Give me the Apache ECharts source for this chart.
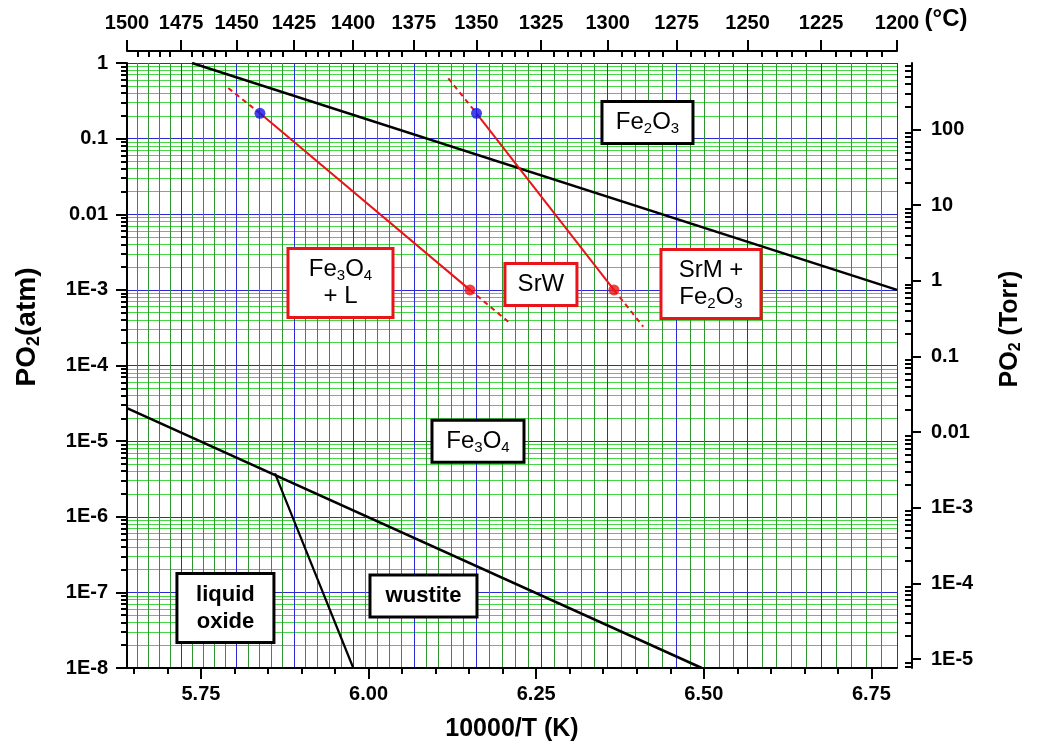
<!DOCTYPE html>
<html><head><meta charset="utf-8">
<script src="https://cdn.jsdelivr.net/npm/echarts@6/dist/echarts.min.js"></script>
<style>html,body{margin:0;padding:0;background:#fff}#c{width:1038px;height:748px}</style>
</head><body><div id="c"></div>
<script>
// ---------- data ----------
const FONT = '"Liberation Sans", Arial, sans-serif';
const TORR_PER_ATM = 760;
const topMajorC = [1500, 1475, 1450, 1425, 1400, 1375, 1350, 1325, 1300, 1275, 1250, 1225, 1200];
const bottomMajor = [5.75, 6.00, 6.25, 6.50, 6.75];
const bottomMinor = [5.65, 5.70, 5.80, 5.85, 5.90, 5.95, 6.05, 6.10, 6.15, 6.20, 6.30, 6.35, 6.40, 6.45, 6.55, 6.60, 6.65, 6.70];
const leftMajor = [1, 0.1, 0.01, 1e-3, 1e-4, 1e-5, 1e-6, 1e-7, 1e-8];
const rightMajor = [100, 10, 1, 0.1, 0.01, 1e-3, 1e-4, 1e-5];

// phase boundaries  [10000/T, PO2 (atm)]
const hematiteMagnetite = [[5.7366, 1], [6.7882, 1e-3]];
const magnetiteWustite = [[5.6396, 2.74e-5], [6.497, 1e-8]];
const liquidWustite = [[5.8604, 3.75e-6], [5.9772, 1e-8]];
// SrW stability lines
const srwLeftSolid = [[5.8380, 0.216], [6.1512, 1e-3]];
const srwLeftDashUp = [[5.7907, 0.467], [5.8380, 0.216]];
const srwLeftDashDown = [[6.1512, 1e-3], [6.2084, 3.79e-4]];
const srwRightSolid = [[6.1610, 0.216], [6.3660, 1e-3]];
const srwRightDashUp = [[6.1189, 0.628], [6.1610, 0.216]];
const srwRightDashDown = [[6.3660, 1e-3], [6.4097, 3.26e-4]];
const blueDots = [[5.8380, 0.216], [6.1610, 0.216]];
const redDots = [[6.1512, 1e-3], [6.3660, 1e-3]];

// region labels: text, anchor [x, PO2]
const regionText = ['Fe2O3', 'Fe3O4+L', 'SrW', 'SrM+Fe2O3', 'Fe3O4', 'liquid oxide', 'wustite'];
const regionAnchor = [[6.4160, 0.1633], [5.9581, 1.233e-3], [6.2571, 1.178e-3], [6.5107, 1.196e-3], [6.1632, 1.0e-5], [5.7865, 6.21e-8], [6.0819, 8.95e-8]];

// ---------- derived axis scaffolding ----------
const toX = c => 10000 / (c + 273.15);
const xMin = toX(1500), xMax = toX(1200);
const topMajorX = topMajorC.map(toX);
const topMinorX = [];
for (let c = 1495; c > 1200; c -= 5) if (c % 25 !== 0) topMinorX.push(toX(c));
const leftMinor = [];
for (let e = -8; e < 0; e++) for (let k = 2; k <= 9; k++) leftMinor.push(k * Math.pow(10, e));
const rMin = 1e-8 * TORR_PER_ATM, rMax = 1 * TORR_PER_ATM;
const rightMinor = [];
for (let e = -6; e <= 2; e++) for (let k = 2; k <= 9; k++) { const v = k * Math.pow(10, e); if (v >= rMin && v <= rMax) rightMinor.push(v); }

const tickStyle = { color: '#000', width: 2 };
const labelFont = { fontFamily: FONT, fontSize: 20, fontWeight: 'bold', color: '#000' };
const logLabel = v => {
  const e = Math.round(Math.log10(v));
  if (e >= -2) return String(Math.pow(10, e) >= 1 ? Math.round(Math.pow(10, e)) : Number(Math.pow(10, e).toFixed(-e)));
  return '1E' + e;
};

// ---------- label rich styles ----------
const noFx = { textBorderWidth: 0, textShadowBlur: 0, textShadowColor: 'transparent' };
const rich = {
  n: Object.assign({ fontFamily: FONT, fontSize: 24, color: '#000', lineHeight: 27 }, noFx),
  s: Object.assign({ fontFamily: FONT, fontSize: 15, color: '#000', lineHeight: 12, padding: [13, 0, 0, 0] }, noFx),
  b: Object.assign({ fontFamily: FONT, fontSize: 22, fontWeight: 'bold', color: '#000', lineHeight: 27 }, noFx)
};
const regionFmt = {
  'Fe2O3': '{n|Fe}{s|2}{n|O}{s|3}',
  'Fe3O4+L': '{n|Fe}{s|3}{n|O}{s|4}\n{n|+ L}',
  'SrW': '{n|SrW}',
  'SrM+Fe2O3': '{n|SrM +}\n{n|Fe}{s|2}{n|O}{s|3}',
  'Fe3O4': '{n|Fe}{s|3}{n|O}{s|4}',
  'liquid oxide': '{b|liquid}\n{b|oxide}',
  'wustite': '{b|wustite}'
};
const regionBox = {
  'Fe2O3': { c: '#000', w: 88 },
  'Fe3O4+L': { c: '#e8141a', w: 102 },
  'SrW': { c: '#e8141a', w: 69 },
  'SrM+Fe2O3': { c: '#e8141a', w: 97 },
  'Fe3O4': { c: '#000', w: 89 },
  'liquid oxide': { c: '#000', w: 94 },
  'wustite': { c: '#000', w: 104 }
};

function lineSeries(data, color, dashed, width) {
  return { type: 'line', xAxisIndex: 1, yAxisIndex: 1, data, showSymbol: false, symbol: 'none', silent: true,
    lineStyle: { color, width, type: dashed ? [5, 4] : 'solid' }, z: 3, animation: false };
}

const option = {
  animation: false,
  backgroundColor: '#fff',
  grid: { left: 127, right: 141, top: 63, bottom: 80, containLabel: false },
  xAxis: [
    { type: 'value', min: xMin, max: xMax, position: 'bottom',
      axisLine: { show: false, onZero: false },
      axisTick: { show: true, customValues: bottomMinor, length: 6, lineStyle: tickStyle },
      axisLabel: { show: false }, splitLine: { show: false } },
    { type: 'value', min: xMin, max: xMax, position: 'bottom',
      axisLine: { show: true, onZero: false, lineStyle: { color: '#000', width: 2 } },
      axisTick: { show: true, customValues: bottomMajor, length: 11, lineStyle: tickStyle },
      axisLabel: Object.assign({ customValues: bottomMajor, formatter: v => v.toFixed(2), margin: 16 }, labelFont),
      splitLine: { show: false },
      name: '10000/T (K)', nameLocation: 'middle', nameGap: 49,
      nameTextStyle: { fontFamily: FONT, fontSize: 25, fontWeight: 'bold', color: '#000' } },
    { type: 'value', min: xMin, max: xMax, position: 'top', offset: 12,
      axisLine: { show: false, onZero: false },
      axisTick: { show: true, customValues: topMinorX, inside: true, length: 6, lineStyle: tickStyle },
      axisLabel: { show: false },
      splitLine: { show: true, lineStyle: { color: '#2e962e', width: 1 } } },
    { type: 'value', min: xMin, max: xMax, position: 'top', offset: 12,
      axisLine: { show: true, onZero: false, lineStyle: { color: '#000', width: 2 } },
      axisTick: { show: true, customValues: topMajorX, length: 11, lineStyle: tickStyle },
      axisLabel: Object.assign({ customValues: topMajorX, formatter: v => String(Math.round(10000 / v - 273.15)), margin: 18 }, labelFont),
      splitLine: { show: true, lineStyle: { color: '#2a2ad4', width: 1 } } }
  ],
  yAxis: [
    { type: 'log', min: 1e-8, max: 1, position: 'left',
      axisLine: { show: false, onZero: false },
      axisTick: { show: true, customValues: leftMinor, length: 6, lineStyle: tickStyle },
      axisLabel: { show: false },
      splitLine: { show: true, lineStyle: { color: '#46d646', width: 1 } } },
    { type: 'log', min: 1e-8, max: 1, position: 'left',
      axisLine: { show: true, onZero: false, lineStyle: { color: '#000', width: 2 } },
      axisTick: { show: true, customValues: leftMajor, length: 11, lineStyle: tickStyle },
      axisLabel: Object.assign({ customValues: leftMajor, formatter: logLabel, margin: 19 }, labelFont),
      splitLine: { show: true, lineStyle: { color: '#2a2ad4', width: 1 } } },
    { type: 'log', min: rMin, max: rMax, position: 'right', offset: 15,
      axisLine: { show: false, onZero: false },
      axisTick: { show: true, customValues: rightMinor, inside: true, length: 7, lineStyle: tickStyle },
      axisLabel: { show: false }, splitLine: { show: false } },
    { type: 'log', min: rMin, max: rMax, position: 'right', offset: 15,
      axisLine: { show: true, onZero: false, lineStyle: { color: '#000', width: 2 } },
      axisTick: { show: true, customValues: rightMajor, length: 9, lineStyle: tickStyle },
      axisLabel: Object.assign({ customValues: rightMajor, formatter: logLabel, margin: 19 }, labelFont),
      splitLine: { show: false } }
  ],
  series: [
    lineSeries(hematiteMagnetite, '#000', false, 2.5),
    lineSeries(magnetiteWustite, '#000', false, 2.5),
    lineSeries(liquidWustite, '#000', false, 2.2),
    lineSeries(srwLeftSolid, '#e8141a', false, 2),
    lineSeries(srwLeftDashUp, '#e8141a', true, 2),
    lineSeries(srwLeftDashDown, '#e8141a', true, 2),
    lineSeries(srwRightSolid, '#e8141a', false, 2),
    lineSeries(srwRightDashUp, '#e8141a', true, 2),
    lineSeries(srwRightDashDown, '#e8141a', true, 2),
    { type: 'scatter', xAxisIndex: 1, yAxisIndex: 1, data: blueDots, symbolSize: 11, itemStyle: { color: '#1414e6' }, z: 4, silent: true },
    { type: 'scatter', xAxisIndex: 1, yAxisIndex: 1, data: redDots, symbolSize: 11, itemStyle: { color: '#f01010' }, z: 4, silent: true },
    { type: 'scatter', xAxisIndex: 1, yAxisIndex: 1, symbolSize: 1, itemStyle: { color: '#fff', opacity: 0 }, z: 5, silent: true,
      data: regionText.map((t, i) => ({
        value: regionAnchor[i],
        label: Object.assign({ show: true, position: 'inside', formatter: regionFmt[t], rich,
          color: '#000', backgroundColor: '#fff', borderColor: regionBox[t].c, borderWidth: 3,
          shadowBlur: 0, shadowColor: 'transparent', shadowOffsetX: 0, shadowOffsetY: 0, opacity: 1,
          width: regionBox[t].w, padding: [6, 0], align: 'center', verticalAlign: 'middle' }, noFx)
      })) }
  ],
  graphic: [
    { type: 'text', x: 27, y: 327, rotation: Math.PI / 2, silent: true,
      style: { text: '{a|PO}{s|2}{a|(atm)}', align: 'center', verticalAlign: 'middle',
        rich: { a: { fontFamily: FONT, fontSize: 28, fontWeight: 'bold', fill: '#000', color: '#000' },
                s: { fontFamily: FONT, fontSize: 18, fontWeight: 'bold', fill: '#000', color: '#000', padding: [14, 0, 0, 0] } } } },
    { type: 'text', x: 1010, y: 329, rotation: Math.PI / 2, silent: true,
      style: { text: '{a|PO}{s|2}{a| (Torr)}', align: 'center', verticalAlign: 'middle',
        rich: { a: { fontFamily: FONT, fontSize: 25, fontWeight: 'bold', fill: '#000', color: '#000' },
                s: { fontFamily: FONT, fontSize: 16, fontWeight: 'bold', fill: '#000', color: '#000', padding: [12, 0, 0, 0] } } } },
    { type: 'text', x: 946, y: 19, silent: true,
      style: { text: '(°C)', font: 'bold 24px ' + FONT, fill: '#000', align: 'center', verticalAlign: 'middle' } }
  ]
};
const chart = echarts.init(document.getElementById('c'), null, { renderer: 'canvas' });
chart.setOption(option);
</script></body></html>
